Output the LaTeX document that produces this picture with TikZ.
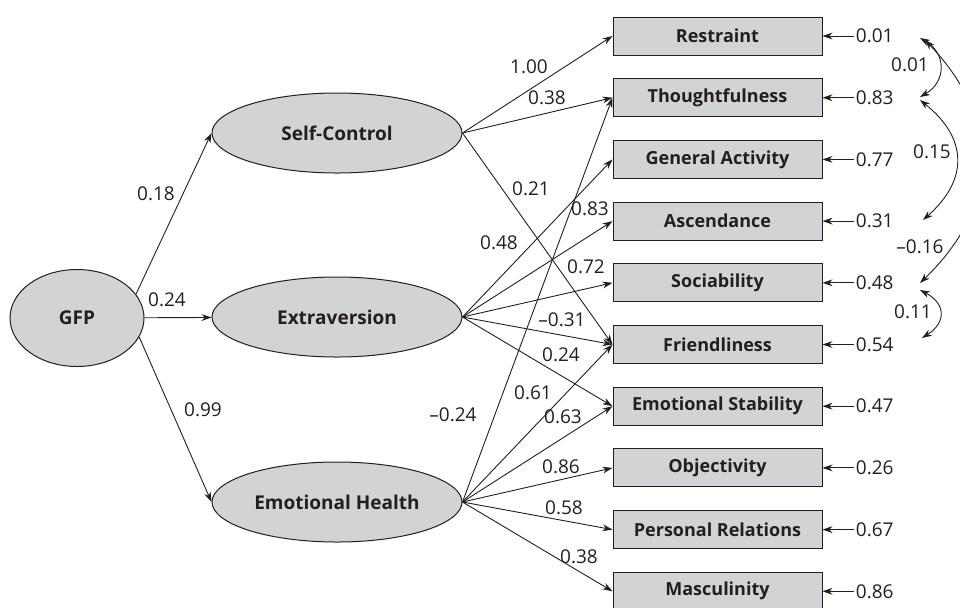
\documentclass[tikz,border=0pt]{standalone}
\usepackage{fontspec}
\setmainfont{Open Sans}
\usepackage{xcolor}
\usetikzlibrary{shapes.geometric, arrows.meta, positioning}

\definecolor{ink}{HTML}{231F20}
\definecolor{shade}{HTML}{D1D3D4}

\begin{document}
\begin{tikzpicture}[
    x=0.5pt, y=-0.5pt,
    node distance=11.35pt,
    latent/.style={ellipse, draw=ink, fill=shade, line width=0.5pt, minimum width=125pt, minimum height=40pt, inner sep=0pt, text=ink, font=\fontsize{9.5}{11}\selectfont\bfseries},
    indicator/.style={rectangle, draw=ink, fill=shade, line width=0.5pt, minimum width=104.5pt, minimum height=19pt, inner sep=0pt, text=ink, font=\fontsize{9}{11}\selectfont\bfseries},
    coef/.style={inner sep=1pt, text=ink, font=\fontsize{9.5}{11}\selectfont},
    arrow/.style={-{Stealth[length=5pt, width=3.4pt]}, line width=0.45pt, draw=ink},
    cov/.style={{Stealth[length=5pt, width=3.4pt]}-{Stealth[length=5pt, width=3.4pt]}, line width=0.45pt, draw=ink}
]
\useasboundingbox (0,0) rectangle (960,607);

% Latent factors
\node[latent, minimum width=67pt, minimum height=48.5pt] (gfp) at (77,318) {GFP};
\node[latent] (selfctrl) at (337,133) {Self-Control};
\node[latent] (extra) at (337,317) {Extraversion};
\node[latent] (emohealth) at (337,502) {Emotional Health};

% Observed scales
\node[indicator] (restraint) at (717.5,36) {Restraint};
\node[indicator, below=of restraint] (thought) {Thoughtfulness};
\node[indicator, below=of thought] (genact) {General Activity};
\node[indicator, below=of genact] (ascend) {Ascendance};
\node[indicator, below=of ascend] (sociab) {Sociability};
\node[indicator, below=of sociab] (friendly) {Friendliness};
\node[indicator, below=of friendly] (emostab) {Emotional Stability};
\node[indicator, below=of emostab] (objectiv) {Objectivity};
\node[indicator, below=of objectiv] (persrel) {Personal Relations};
\node[indicator, below=of persrel] (mascul) {Masculinity};

% Error variances
\node[coef, right=15.5pt of restraint] (err1) {0.01};
\node[coef, right=15.5pt of thought] (err2) {0.83};
\node[coef, right=15.5pt of genact] (err3) {0.77};
\node[coef, right=15.5pt of ascend] (err4) {0.31};
\node[coef, right=15.5pt of sociab] (err5) {0.48};
\node[coef, right=15.5pt of friendly] (err6) {0.54};
\node[coef, right=15.5pt of emostab] (err7) {0.47};
\node[coef, right=15.5pt of objectiv] (err8) {0.26};
\node[coef, right=15.5pt of persrel] (err9) {0.67};
\node[coef, right=15.5pt of mascul] (err10) {0.86};
\foreach \i/\scale in {1/restraint, 2/thought, 3/genact, 4/ascend, 5/sociab, 6/friendly, 7/emostab, 8/objectiv, 9/persrel, 10/mascul}
    \draw[arrow] (err\i.west) -- (\scale.east);

% GFP paths
\draw[arrow] (gfp.22) -- (selfctrl.west);
\draw[arrow] (gfp) -- (extra);
\draw[arrow] (gfp.-17) -- (emohealth.west);
\node[coef] (g1) at (156,194) {0.18};
\node[coef] (g2) at (167,300) {0.24};
\node[coef] (g3) at (203,410) {0.99};

% Self-Control loadings
\draw[arrow] (selfctrl.east) -- (restraint.west);
\draw[arrow] (selfctrl.east) -- (thought.west);
\draw[arrow] (selfctrl.east) -- (friendly.west);
\node[coef] (s1) at (529,67) {1.00};
\node[coef] (s2) at (547,98) {0.38};
\node[coef] (s3) at (531,189) {0.21};

% Extraversion loadings
\draw[arrow] (extra.east) -- (genact.west);
\draw[arrow] (extra.east) -- (ascend.west);
\draw[arrow] (extra.east) -- (sociab.west);
\draw[arrow] (extra.east) -- (friendly.west);
\draw[arrow] (extra.east) -- (emostab.west);
\node[coef] (x1) at (499,243) {0.48};
\node[coef] (x2) at (590,209) {0.83};
\node[coef] (x3) at (586,267) {0.72};
\node[coef] (x4) at (562,320) {–0.31};
\node[coef] (x5) at (561,355) {0.24};

% Emotional Health loadings
\draw[arrow] (emohealth.east) -- (thought.west);
\draw[arrow] (emohealth.east) -- (friendly.west);
\draw[arrow] (emohealth.east) -- (emostab.west);
\draw[arrow] (emohealth.east) -- (objectiv.west);
\draw[arrow] (emohealth.east) -- (persrel.west);
\draw[arrow] (emohealth.east) -- (mascul.west);
\node[coef] (h1) at (453,415) {–0.24};
\node[coef] (h2) at (533,393) {0.61};
\node[coef] (h3) at (563,417) {0.63};
\node[coef] (h4) at (561,467) {0.86};
\node[coef] (h5) at (564,508) {0.58};
\node[coef] (h6) at (579,557) {0.38};

% Error covariances
\coordinate (c1) at (920,38);
\coordinate (c1b) at (925,40);
\coordinate (c2) at (920,97);
\coordinate (c2b) at (920,100);
\coordinate (c4) at (923,220);
\coordinate (c5) at (920,283);
\coordinate (c5b) at (920,290);
\coordinate (c6) at (922,338);
\draw[cov] (c1) to[bend left=60, looseness=1.33] (c2);
\draw[cov] (c2b) to[bend left=50, looseness=1.3] (c4);
\draw[cov] (c1b) to[bend left=45, looseness=1.16] (c5);
\draw[cov] (c5b) to[bend left=60, looseness=1.55] (c6);
\node[coef] (k1) at (910,65) {0.01};
\node[coef] (k2) at (932,152) {0.15};
\node[coef] (k3) at (920,247) {–0.16};
\node[coef] (k4) at (913,312) {0.11};

\end{tikzpicture}
\end{document}
